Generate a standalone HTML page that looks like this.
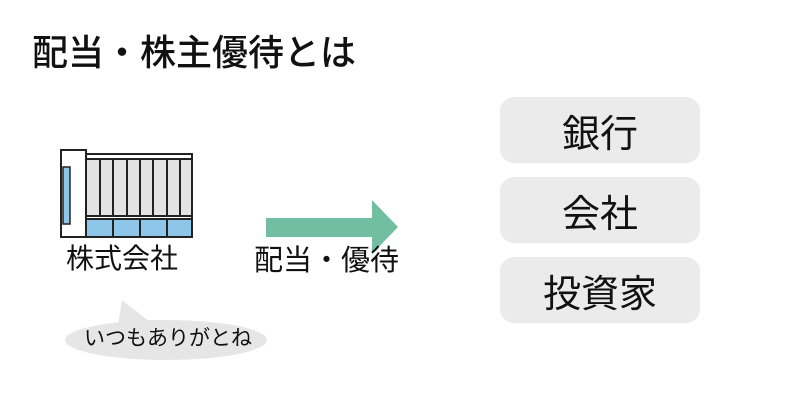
<!DOCTYPE html>
<html><head><meta charset="utf-8"><style>
body{margin:0;width:800px;height:420px;background:#fff;position:relative;overflow:hidden;font-family:"Liberation Sans","Noto Sans CJK JP",sans-serif;color:#111}
.t{position:absolute;white-space:nowrap;line-height:1}
.box{position:absolute;left:500px;width:200px;height:66px;background:#ebebeb;border-radius:14px;display:flex;align-items:center;justify-content:center;font-size:38px}
</style></head><body>
<div class="t" style="left:32px;top:35px;font-size:36px;font-weight:500">配当・株主優待とは</div>
<svg style="position:absolute;left:0;top:0" width="800" height="420">
<g stroke="#222" stroke-width="2">
<polygon points="61,150 86,150 86,154 192,154 192,237 61,237" fill="#fff"/>
<rect x="63" y="167" width="7" height="57" fill="#8ec6ea" stroke-width="1.5"/>
<rect x="86" y="159" width="106" height="57" fill="#e3e3e3"/>
<rect x="86" y="219" width="106" height="18" fill="#8ec6ea"/>
<line x1="100" y1="159" x2="100" y2="216"/><line x1="113" y1="159" x2="113" y2="216"/>
<line x1="127" y1="159" x2="127" y2="216"/><line x1="140" y1="159" x2="140" y2="216"/>
<line x1="153" y1="159" x2="153" y2="216"/><line x1="167" y1="159" x2="167" y2="216"/>
<line x1="180" y1="159" x2="180" y2="216"/>
<line x1="113" y1="219" x2="113" y2="237"/><line x1="140" y1="219" x2="140" y2="237"/><line x1="167" y1="219" x2="167" y2="237"/>
<line x1="86" y1="154" x2="86" y2="237"/>
</g>
<path d="M122,300 L150,322 L118,325 Z" fill="#e6e6e6"/>
<ellipse cx="166" cy="340" rx="101" ry="20" fill="#e6e6e6"/>
<polygon points="266,218 372,218 372,200 398,227 372,254 372,237 266,237" fill="#72bea2"/>
</svg>
<div class="t" style="left:66px;top:245px;font-size:28px">株式会社</div>
<div class="t" style="left:84px;top:328px;font-size:21px">いつもありがとね</div>
<div class="t" style="left:254px;top:247px;font-size:29px">配当・優待</div>
<div class="box" style="top:97px">銀行</div>
<div class="box" style="top:177px">会社</div>
<div class="box" style="top:257px">投資家</div>
</body></html>
